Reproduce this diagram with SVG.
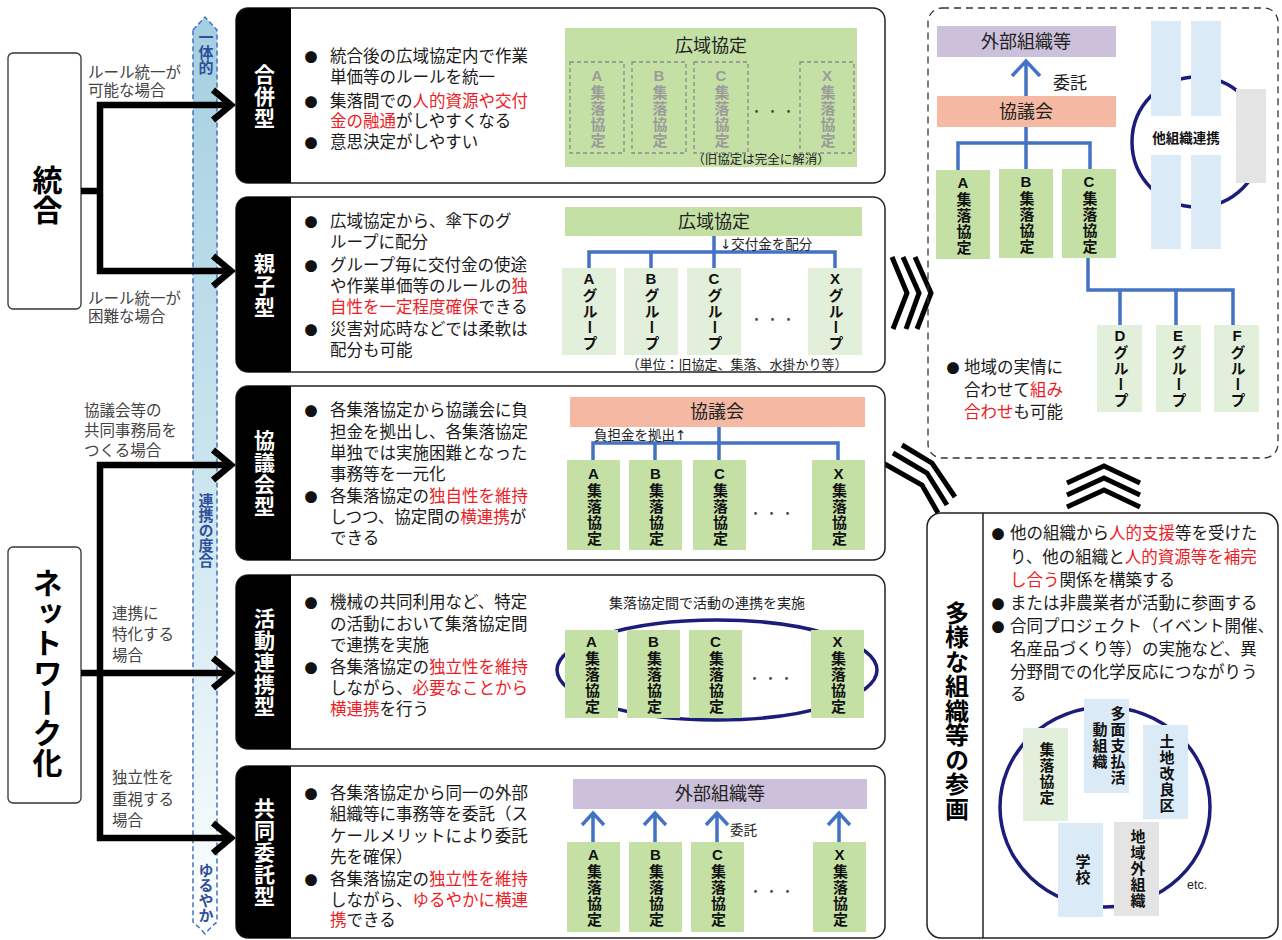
<svg xmlns="http://www.w3.org/2000/svg" width="1282" height="940" viewBox="0 0 1282 940">
<defs>
<linearGradient id="bandg" x1="0" y1="0" x2="0" y2="1">
<stop offset="0" stop-color="#a4cfe0"/>
<stop offset="0.55" stop-color="#cfe7f0"/>
<stop offset="0.85" stop-color="#eef7fa"/>
<stop offset="1" stop-color="#ffffff"/>
</linearGradient>
<style>
text{font-family:"Liberation Sans","Noto Sans CJK JP",sans-serif;}
.b{font-size:16.5px;fill:#1a1a1a;dominant-baseline:central}
.r{fill:#ee1c25}
.ar{font-family:"DejaVu Sans",sans-serif;fill:#222}
.lb{font-size:15.5px;fill:#444;dominant-baseline:central}
.v{writing-mode:vertical-rl;text-orientation:upright;text-anchor:middle}
.tab{font-size:21px;font-weight:bold;fill:#fff;letter-spacing:1px}
.bx{font-size:15px;font-weight:bold;fill:#111;letter-spacing:1px}
.bx0{font-size:15px;font-weight:bold;fill:#111;letter-spacing:1px}
.gx{font-size:15px;font-weight:bold;fill:#9b9b9b;letter-spacing:1px}
.hd{font-size:18px;fill:#222;text-anchor:middle;dominant-baseline:central}
.sm{font-size:13.5px;fill:#222;dominant-baseline:central}
.band{font-size:15px;font-weight:bold;fill:#2f4f9c}
.row{fill:#fff;stroke:#222;stroke-width:1.5}
.g{fill:#c5e0a5}
.lg{fill:#e2efda}
.bl{fill:#dbeaf7}
.gr{fill:#e4e4e4}
.dash{fill:none;stroke:#8a8a8a;stroke-width:1.3;stroke-dasharray:4 3}
.tree{fill:none;stroke:#4472c4;stroke-width:3.5}
.arr{fill:none;stroke:#000;stroke-width:6.5}
.chev{fill:none;stroke:#000;stroke-width:5}
.bul{font-family:"Noto Sans CJK JP",sans-serif;font-size:13px;fill:#111;dominant-baseline:central;text-anchor:middle}
.dots{font-family:"Noto Sans CJK JP",sans-serif;font-size:13px;fill:#444;text-anchor:middle;dominant-baseline:central;letter-spacing:3px}
.ring{fill:none;stroke:#1c1c7c;stroke-width:3.5}
</style>
</defs>
<rect width="1282" height="940" fill="#fff"/>

<g id="band">
<path d="M193,30 L205,17 L217,30 V922 Q211,927 205,934 Q199,927 193,922 Z" fill="url(#bandg)" stroke="#4472c4" stroke-width="1.5" stroke-dasharray="5 3"/>
<text class="v band" x="205" y="52">一体的</text>
<text class="v band" x="205" y="530">連携の度合</text>
<text class="v band" x="205" y="893">ゆるやか</text>
</g>

<g id="tougou">
<rect x="8" y="53" width="73" height="256" rx="5" fill="#fff" stroke="#333" stroke-width="1.3"/>
<text class="v" x="45" y="195" style="font-size:30px;font-weight:bold;fill:#000">統合</text>
</g>
<g id="network">
<rect x="8" y="547" width="73" height="256" rx="5" fill="#fff" stroke="#333" stroke-width="1.3"/>
<text class="v" x="45" y="673" style="font-size:30px;font-weight:bold;fill:#000">ネットワーク化</text>
</g>

<g id="left-labels">
<text class="lb" x="88" y="72">ルール統一が<tspan x="88" dy="18">可能な場合</tspan></text>
<text class="lb" x="88" y="298">ルール統一が<tspan x="88" dy="18">困難な場合</tspan></text>
<text class="lb" x="84" y="410">協議会等の<tspan x="84" dy="20">共同事務局を</tspan><tspan x="84" dy="20">つくる場合</tspan></text>
<text class="lb" x="112" y="613">連携に<tspan x="112" dy="21">特化する</tspan><tspan x="112" dy="21">場合</tspan></text>
<text class="lb" x="112" y="777">独立性を<tspan x="112" dy="22">重視する</tspan><tspan x="112" dy="21">場合</tspan></text>
</g>

<g id="connectors">
<path class="arr" d="M81,191 H100 M228,105 H100 V271 H228"/>
<path class="arr" d="M213,90 L231,105 L213,120 M213,256 L231,271 L213,286"/>
<path class="arr" d="M81,673 H228 M228,465 H100 V838 H228"/>
<path class="arr" d="M213,450 L231,465 L213,480 M213,658 L231,673 L213,688 M213,823 L231,838 L213,853"/>
<path class="chev" d="M892,257 L907,293 L893,329 M903,257 L919,293 L906,329 M915,257 L931,293 L917,329"/>
<path class="chev" d="M902,445 L932,463 L955,497 M893,453 L927,473 L947,505 M883,463 L922,485 L938,513"/>
<path class="chev" d="M1067,483 L1104,466 L1140,483 M1067,495 L1104,478 L1140,495 M1067,507 L1104,490 L1140,507"/>
</g>

<g id="gappei">
<rect class="row" x="236" y="8" width="649" height="175" rx="12"/>
<path d="M291,8 H250 Q236,8 236,22 V169 Q236,183 250,183 H291 Z" fill="#000"/>
<text class="v tab" x="263" y="97">合併型</text>
<text class="bul" x="311" y="56">●</text>
<text class="bul" x="311" y="101">●</text>
<text class="bul" x="311" y="142">●</text>
<text class="b" x="330" y="56">統合後の広域協定内で作業<tspan x="330" dy="21">単価等のルールを統一</tspan><tspan x="330" dy="24">集落間での<tspan class="r">人的資源や交付</tspan></tspan><tspan x="330" dy="20"><tspan class="r">金の融通</tspan>がしやすくなる</tspan><tspan x="330" dy="21">意思決定がしやすい</tspan></text>
<rect class="g" x="565" y="28" width="292" height="139"/>
<text class="hd" x="711" y="46">広域協定</text>
<rect class="dash" x="570" y="62" width="54" height="91"/>
<rect class="dash" x="632" y="62" width="54" height="91"/>
<rect class="dash" x="694" y="62" width="54" height="91"/>
<rect class="dash" x="800" y="62" width="54" height="91"/>
<text class="v gx" x="597" y="108">A集落協定</text>
<text class="v gx" x="659" y="108">B集落協定</text>
<text class="v gx" x="721" y="108">C集落協定</text>
<text class="v gx" x="827" y="108">X集落協定</text>
<text class="dots" x="774" y="110">・・・</text>
<text class="sm" x="761" y="160" text-anchor="middle" style="font-size:12.5px">（旧協定は完全に解消）</text>
</g>

<g id="oyako">
<rect class="row" x="236" y="197" width="649" height="175" rx="12"/>
<path d="M291,197 H250 Q236,197 236,211 V358 Q236,372 250,372 H291 Z" fill="#000"/>
<text class="v tab" x="263" y="286">親子型</text>
<text class="bul" x="311" y="221">●</text>
<text class="bul" x="311" y="265">●</text>
<text class="bul" x="311" y="329">●</text>
<text class="b" x="330" y="221">広域協定から、傘下のグ<tspan x="330" dy="21">ループに配分</tspan><tspan x="330" dy="23">グループ毎に交付金の使途</tspan><tspan x="330" dy="21">や作業単価等のルールの<tspan class="r">独</tspan></tspan><tspan x="330" dy="21"><tspan class="r">自性を一定程度確保</tspan>できる</tspan><tspan x="330" dy="22">災害対応時などでは柔軟は</tspan><tspan x="330" dy="21">配分も可能</tspan></text>
<rect class="g" x="565" y="207" width="297" height="29"/>
<text class="hd" x="714" y="222">広域協定</text>
<path class="tree" d="M714,236 V268 M589,268 V252 H835 V268 M651,252 V268"/>
<text class="sm" x="720" y="244"><tspan class="ar">↓</tspan>交付金を配分</text>
<rect class="lg" x="562" y="268" width="54" height="87"/>
<rect class="lg" x="624" y="268" width="54" height="87"/>
<rect class="lg" x="687" y="268" width="54" height="87"/>
<rect class="lg" x="808" y="268" width="54" height="87"/>
<text class="v bx" x="589" y="311">Aグループ</text>
<text class="v bx" x="651" y="311">Bグループ</text>
<text class="v bx" x="714" y="311">Cグループ</text>
<text class="v bx" x="835" y="311">Xグループ</text>
<text class="dots" x="774" y="318">・・・</text>
<text class="sm" x="737" y="364" text-anchor="middle" style="font-size:13px">（単位：旧協定、集落、水掛かり等）</text>
</g>

<g id="kyogikai">
<rect class="row" x="236" y="386" width="649" height="174" rx="12"/>
<path d="M291,386 H250 Q236,386 236,400 V546 Q236,560 250,560 H291 Z" fill="#000"/>
<text class="v tab" x="263" y="474">協議会型</text>
<text class="bul" x="311" y="410">●</text>
<text class="bul" x="311" y="496">●</text>
<text class="b" x="330" y="410">各集落協定から協議会に負<tspan x="330" dy="22">担金を拠出し、各集落協定</tspan><tspan x="330" dy="21">単独では実施困難となった</tspan><tspan x="330" dy="21">事務等を一元化</tspan><tspan x="330" dy="22">各集落協定の<tspan class="r">独自性を維持</tspan></tspan><tspan x="330" dy="21">しつつ、協定間の<tspan class="r">横連携</tspan>が</tspan><tspan x="330" dy="21">できる</tspan></text>
<rect x="570" y="397" width="295" height="30" fill="#f5b9a3"/>
<text class="hd" x="717" y="412">協議会</text>
<path class="tree" d="M719,427 V460 M593,460 V443 H838 V460 M655,443 V460"/>
<text class="sm" x="594" y="435">負担金を拠出<tspan class="ar">↑</tspan></text>
<rect class="g" x="567" y="460" width="53" height="90"/>
<rect class="g" x="629" y="460" width="53" height="90"/>
<rect class="g" x="693" y="460" width="53" height="90"/>
<rect class="g" x="812" y="460" width="53" height="90"/>
<text class="v bx" x="593.5" y="506">A集落協定</text>
<text class="v bx" x="655.5" y="506">B集落協定</text>
<text class="v bx" x="719.5" y="506">C集落協定</text>
<text class="v bx" x="838.5" y="506">X集落協定</text>
<text class="dots" x="773" y="512">・・・</text>
</g>

<g id="katsudo">
<rect class="row" x="236" y="575" width="649" height="174" rx="12"/>
<path d="M291,575 H250 Q236,575 236,589 V735 Q236,749 250,749 H291 Z" fill="#000"/>
<text class="v tab" x="263" y="663">活動連携型</text>
<text class="bul" x="311" y="602">●</text>
<text class="bul" x="311" y="667">●</text>
<text class="b" x="330" y="602">機械の共同利用など、特定<tspan x="330" dy="22">の活動において集落協定間</tspan><tspan x="330" dy="21">で連携を実施</tspan><tspan x="330" dy="22">各集落協定の<tspan class="r">独立性を維持</tspan></tspan><tspan x="330" dy="21">しながら、<tspan class="r">必要なことから</tspan></tspan><tspan x="330" dy="21"><tspan class="r">横連携</tspan>を行う</tspan></text>
<text class="sm" x="707" y="603" text-anchor="middle" style="font-size:14px">集落協定間で活動の連携を実施</text>
<ellipse class="ring" cx="717" cy="670" rx="160" ry="50"/>
<rect class="g" x="565" y="630" width="53" height="88"/>
<rect class="g" x="627" y="630" width="53" height="88"/>
<rect class="g" x="689" y="630" width="53" height="88"/>
<rect class="g" x="811" y="630" width="53" height="88"/>
<text class="v bx" x="591.5" y="674">A集落協定</text>
<text class="v bx" x="653.5" y="674">B集落協定</text>
<text class="v bx" x="715.5" y="674">C集落協定</text>
<text class="v bx" x="837.5" y="674">X集落協定</text>
<text class="dots" x="772" y="677">・・・</text>
</g>

<g id="kyodo">
<rect class="row" x="236" y="766" width="649" height="172" rx="12"/>
<path d="M291,766 H250 Q236,766 236,780 V924 Q236,938 250,938 H291 Z" fill="#000"/>
<text class="v tab" x="263" y="853">共同委託型</text>
<text class="bul" x="311" y="793">●</text>
<text class="bul" x="311" y="879">●</text>
<text class="b" x="330" y="793">各集落協定から同一の外部<tspan x="330" dy="21">組織等に事務等を委託（ス</tspan><tspan x="330" dy="22">ケールメリットにより委託</tspan><tspan x="330" dy="21">先を確保）</tspan><tspan x="330" dy="22">各集落協定の<tspan class="r">独立性を維持</tspan></tspan><tspan x="330" dy="21">しながら、<tspan class="r">ゆるやかに横連</tspan></tspan><tspan x="330" dy="20"><tspan class="r">携</tspan>できる</tspan></text>
<rect x="573" y="779" width="294" height="30" fill="#ccc0da"/>
<text class="hd" x="720" y="794">外部組織等</text>
<path class="tree" d="M593,842 V813 M655,842 V813 M717,842 V813 M839,842 V813 M582,825 L593,813 L604,825 M644,825 L655,813 L666,825 M706,825 L717,813 L728,825 M828,825 L839,813 L850,825"/>
<text class="sm" x="730" y="830">委託</text>
<rect class="g" x="567" y="842" width="53" height="90"/>
<rect class="g" x="629" y="842" width="53" height="90"/>
<rect class="g" x="691" y="842" width="53" height="90"/>
<rect class="g" x="813" y="842" width="53" height="90"/>
<text class="v bx" x="593.5" y="887">A集落協定</text>
<text class="v bx" x="655.5" y="887">B集落協定</text>
<text class="v bx" x="717.5" y="887">C集落協定</text>
<text class="v bx" x="839.5" y="887">X集落協定</text>
<text class="dots" x="773" y="890">・・・</text>
</g>

<g id="combination">
<rect x="928" y="8" width="350" height="450" rx="14" fill="none" stroke="#333" stroke-width="1.3" stroke-dasharray="7 5"/>
<rect x="937" y="26" width="179" height="31" fill="#ccc0da"/>
<text class="hd" x="1026" y="42">外部組織等</text>
<path class="tree" d="M1026,97 V61 M1012,76 L1026,61 L1040,76"/>
<text x="1053" y="83" style="font-size:17px;fill:#222;dominant-baseline:central">委託</text>
<rect x="937" y="96" width="179" height="31" fill="#f5b9a3"/>
<text class="hd" x="1026" y="112">協議会</text>
<path class="tree" d="M1026,127 V170 M958,170 V143 H1090 V170 M1088,258 V290 H1233 V325 M1120,290 V325 M1176,290 V325"/>
<rect class="g" x="936" y="170" width="54" height="89"/>
<rect class="g" x="999" y="169" width="54" height="89"/>
<rect class="g" x="1062" y="169" width="54" height="89"/>
<text class="v bx" x="963" y="215">A集落協定</text>
<text class="v bx" x="1026" y="214">B集落協定</text>
<text class="v bx" x="1089" y="214">C集落協定</text>
<rect class="lg" x="1097" y="325" width="45" height="87"/>
<rect class="lg" x="1156" y="325" width="45" height="87"/>
<rect class="lg" x="1214" y="325" width="45" height="87"/>
<text class="v bx" x="1120" y="368">Dグループ</text>
<text class="v bx" x="1178" y="368">Eグループ</text>
<text class="v bx" x="1237" y="368">Fグループ</text>
<text class="bul" x="953" y="367">●</text>
<text class="b" x="964" y="367">地域の実情に<tspan x="964" dy="23">合わせて<tspan class="r">組み</tspan></tspan><tspan x="964" dy="22"><tspan class="r">合わせ</tspan>も可能</tspan></text>
<circle class="ring" cx="1197" cy="142" r="65"/>
<rect class="bl" x="1151" y="21" width="30" height="95"/>
<rect class="bl" x="1191" y="21" width="30" height="95"/>
<rect class="bl" x="1151" y="155" width="30" height="94"/>
<rect class="bl" x="1191" y="155" width="30" height="94"/>
<rect class="gr" x="1236" y="89" width="30" height="94"/>
<text x="1186" y="138" text-anchor="middle" style="font-size:13.5px;font-weight:bold;fill:#111;dominant-baseline:central">他組織連携</text>
</g>

<g id="tayo">
<rect x="927" y="513" width="351" height="425" rx="14" fill="#fff" stroke="#222" stroke-width="1.5"/>
<line x1="983" y1="513" x2="983" y2="938" stroke="#222" stroke-width="1.5"/>
<text class="v" x="955" y="711" style="font-size:24px;font-weight:bold;fill:#000;letter-spacing:0.5px">多様な組織等の参画</text>
<text class="bul" x="998" y="533">●</text>
<text class="bul" x="998" y="603">●</text>
<text class="bul" x="998" y="626">●</text>
<text class="b" x="1010" y="533">他の組織から<tspan class="r">人的支援</tspan>等を受けた<tspan x="1010" dy="24">り、他の組織と<tspan class="r">人的資源等を補完</tspan></tspan><tspan x="1010" dy="23"><tspan class="r">し合う</tspan>関係を構築する</tspan><tspan x="1010" dy="23">または非農業者が活動に参画する</tspan><tspan x="1010" dy="23">合同プロジェクト（イベント開催、</tspan><tspan x="1010" dy="23">名産品づくり等）の実施など、異</tspan><tspan x="1010" dy="23">分野間での化学反応につながりう</tspan><tspan x="1010" dy="22">る</tspan></text>
<ellipse class="ring" cx="1105" cy="807" rx="105" ry="100"/>
<rect class="lg" x="1023" y="728" width="45" height="93"/>
<rect class="bl" x="1084" y="699" width="45" height="94"/>
<rect class="bl" x="1143" y="725" width="45" height="94"/>
<rect class="bl" x="1058" y="823" width="45" height="94"/>
<rect class="gr" x="1114" y="822" width="45" height="94"/>
<text class="v bx0" x="1046" y="774">集落協定</text>
<text class="v bx0" x="1117" y="746">多面支払活</text>
<text class="v bx0" x="1099" y="746">動組織</text>
<text class="v bx0" x="1166" y="774">土地改良区</text>
<text class="v bx0" x="1082" y="870">学校</text>
<text class="v bx0" x="1137" y="869">地域外組織</text>
<text x="1187" y="885" style="font-size:12.5px;fill:#222;dominant-baseline:central">etc.</text>
</g>
</svg>
